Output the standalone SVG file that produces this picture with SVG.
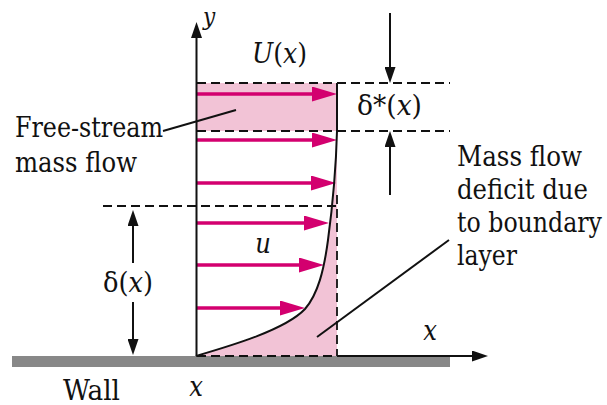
<svg xmlns="http://www.w3.org/2000/svg" width="607" height="405" viewBox="0 0 607 405">
<style>
.t{font-family:'DejaVu Serif Condensed','DejaVu Serif',serif;font-size:27px;fill:#111}
.i{font-style:italic}
.dash{stroke:#111;stroke-width:1.8;stroke-dasharray:9 5;fill:none}
.blk{stroke:#111;stroke-width:2;fill:none}
.mag{stroke:#d3006f;stroke-width:3.6;fill:none}
.pink{fill:#f2c3d6;stroke:none}
</style>
<defs>
<marker id="mh" markerUnits="userSpaceOnUse" viewBox="0 0 25 15" refX="13" refY="7.5" markerWidth="25" markerHeight="15" orient="auto">
<path d="M0,0 L25,7.5 L0,15 Z" fill="#d3006f"/>
</marker>
<marker id="bh" markerUnits="userSpaceOnUse" viewBox="0 0 16 11" refX="8" refY="5.5" markerWidth="16" markerHeight="11" orient="auto">
<path d="M0,0 L16,5.5 L0,11 Z" fill="#111"/>
</marker>
</defs>

<g id="wall">
<rect x="12" y="356" width="438" height="11" fill="#888"/>
</g>

<g id="freestream-region">
<rect class="pink" x="197" y="83" width="140" height="48"/>
</g>

<g id="deficit-region">
<path class="pink" d="M196,356 C230,346 285,330 305,309 C318,294 324,270 328,240 C332,210 336,170 337,131 L337,356 Z"/>
</g>

<g id="velocity-arrows">
<line class="mag" x1="197" y1="94" x2="325" y2="94" marker-end="url(#mh)"/>
<line class="mag" x1="197" y1="140" x2="325" y2="140" marker-end="url(#mh)"/>
<line class="mag" x1="197" y1="183" x2="324" y2="183" marker-end="url(#mh)"/>
<line class="mag" x1="197" y1="223" x2="317" y2="223" marker-end="url(#mh)"/>
<line class="mag" x1="197" y1="265" x2="312" y2="265" marker-end="url(#mh)"/>
<line class="mag" x1="197" y1="308" x2="293" y2="308" marker-end="url(#mh)"/>
</g>

<g id="connectors">
<line class="dash" x1="197" y1="83" x2="450" y2="83"/>
<line class="dash" x1="197" y1="131" x2="450" y2="131"/>
<line class="dash" x1="103" y1="206" x2="337" y2="206"/>
<line class="dash" x1="337" y1="195" x2="337" y2="356"/>
<line class="dash" x1="197" y1="356" x2="337" y2="356"/>
<line class="blk" x1="196.5" y1="356" x2="196.5" y2="30" marker-end="url(#bh)"/>
<line class="blk" x1="337" y1="356" x2="480" y2="356" marker-end="url(#bh)"/>
<path class="blk" d="M196,356 C230,346 285,330 305,309 C318,294 324,270 328,240 C332,210 336,170 337,131 L337,83"/>
<line class="blk" stroke-width="1.8" x1="390" y1="13" x2="390" y2="75" marker-end="url(#bh)"/>
<line class="blk" stroke-width="1.8" x1="390" y1="195" x2="390" y2="139" marker-end="url(#bh)"/>
<line class="blk" stroke-width="1.8" x1="133" y1="263" x2="133" y2="218" marker-end="url(#bh)"/>
<line class="blk" stroke-width="1.8" x1="133" y1="302" x2="133" y2="347" marker-end="url(#bh)"/>
<line class="blk" stroke-width="1.8" x1="163" y1="131" x2="236" y2="110"/>
<line class="blk" stroke-width="1.8" x1="449" y1="240" x2="317" y2="337"/>
</g>

<g id="labels">
<text class="t i" x="203" y="25" style="font-size:24px">y</text>
<text class="t" x="252" y="63" textLength="55" lengthAdjust="spacingAndGlyphs"><tspan class="i">U</tspan>(<tspan class="i">x</tspan>)</text>
<text class="t" x="357" y="115" textLength="65" lengthAdjust="spacingAndGlyphs">δ*(<tspan class="i">x</tspan>)</text>
<text class="t" x="15" y="137" textLength="148" lengthAdjust="spacingAndGlyphs">Free-stream</text>
<text class="t" x="15" y="172" textLength="122" lengthAdjust="spacingAndGlyphs">mass flow</text>
<text class="t" x="457" y="166" textLength="125" lengthAdjust="spacingAndGlyphs">Mass flow</text>
<text class="t" x="457" y="199" textLength="131" lengthAdjust="spacingAndGlyphs">deficit due</text>
<text class="t" x="457" y="232" textLength="145" lengthAdjust="spacingAndGlyphs">to boundary</text>
<text class="t" x="457" y="265" textLength="60" lengthAdjust="spacingAndGlyphs">layer</text>
<text class="t i" x="263" y="253" text-anchor="middle">u</text>
<text class="t" x="103" y="292" textLength="50" lengthAdjust="spacingAndGlyphs">δ(<tspan class="i">x</tspan>)</text>
<text class="t i" x="430" y="340" text-anchor="middle">x</text>
<text class="t i" x="196" y="396" text-anchor="middle">x</text>
<text class="t" x="63" y="400" textLength="57" lengthAdjust="spacingAndGlyphs">Wall</text>
</g>
</svg>
